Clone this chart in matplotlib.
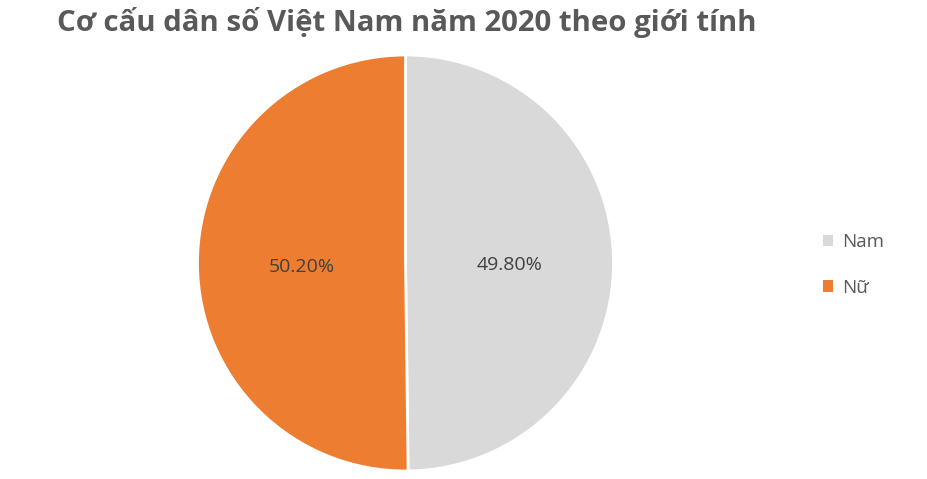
import matplotlib
matplotlib.use('Agg')
import matplotlib.pyplot as plt
from matplotlib.patches import Patch
import numpy as np

# Data
labels = ['Nam', 'Nữ']
shares = [49.80, 50.20]
colors = ['#D9D9D9', '#ED7D31']

plt.rcParams['font.family'] = ['Open Sans', 'DejaVu Sans']

fig = plt.figure(figsize=(9.27, 4.79), dpi=100)

# Pie axes placed to match the reference (center ~405,263 px, radius ~208 px)
W, H = 927, 479
cx, cy, r = 405.5, 263, 208
ax = fig.add_axes([(cx - r) / W, (H - cy - r) / H, 2 * r / W, 2 * r / H])

wedges, texts = ax.pie(
    shares, colors=colors, startangle=90, counterclock=False,
    wedgeprops=dict(edgecolor='white', linewidth=2),
)
for w, v in zip(wedges, shares):
    ang = np.deg2rad((w.theta1 + w.theta2) / 2)
    ax.text(0.5 * np.cos(ang), 0.5 * np.sin(ang) - 0.015, f'{v:.2f}%',
            ha='center', va='center', fontsize=14, color='#404040')
ax.set_xlim(-1, 1)
ax.set_ylim(-1, 1)
ax.set_aspect('equal')
ax.axis('off')

# Title
fig.text(57 / W, 1 - 22 / H, 'Cơ cấu dân số Việt Nam năm 2020 theo giới tính',
         ha='left', va='center', fontsize=21.2, fontweight='bold', color='#595959')

# Legend
handles = [Patch(facecolor=c, edgecolor='none') for c in colors]
fig.legend(handles, labels, loc='center left', bbox_to_anchor=(806 / W, 1 - 265 / H),
           frameon=False, fontsize=13.5, labelcolor='#595959',
           handlelength=0.55, handleheight=0.55, handletextpad=0.5, labelspacing=1.45)

fig.savefig('out.png', dpi=100)
